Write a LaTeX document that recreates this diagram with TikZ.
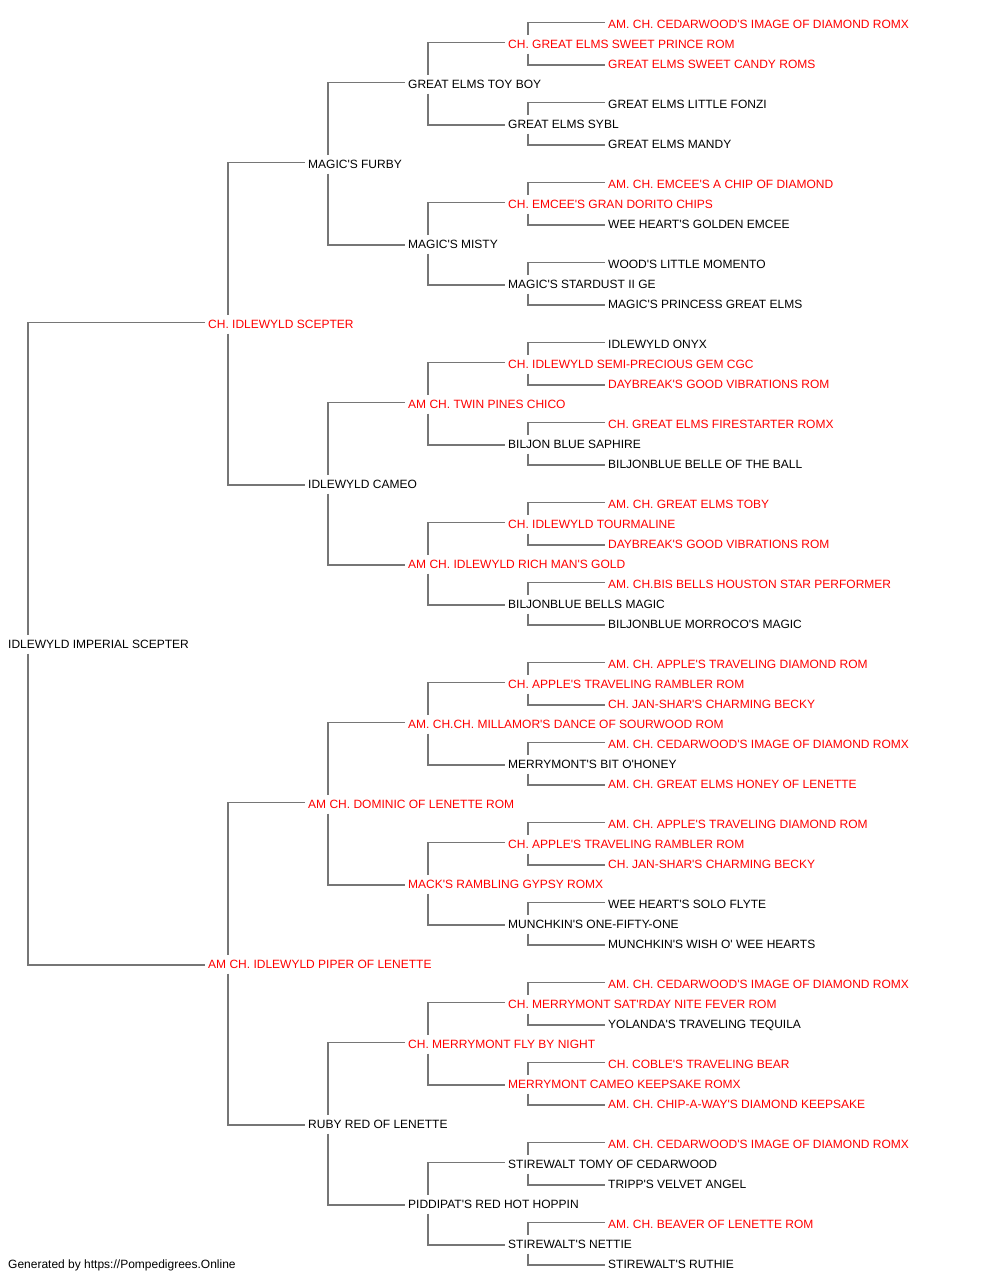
\documentclass[tikz,border=0pt]{standalone}
\usepackage{fontspec}
\setmainfont{Liberation Sans}[Ligatures=TeXOff]
\definecolor{linkgray}{RGB}{118,118,118}
\definecolor{namered}{RGB}{255,0,0}
\tikzset{
  dog/.style={anchor=west, inner sep=0pt, text height=8.3pt, text depth=0pt,
    font=\fontsize{12pt}{14pt}\selectfont, text=black, yshift=-1pt},
  champ/.style={dog, text=namered},
  link/.style={draw=linkgray, line width=1.5pt, line cap=butt, line join=miter}
}
\begin{document}
\begin{tikzpicture}[x=1pt,y=-1pt]
\fill[white] (0,0) rectangle (1000,1280);
\useasboundingbox (0,0) rectangle (1000,1280);
% generation 0
\node[dog] (n1) at (8,643) {IDLEWYLD IMPERIAL SCEPTER};
% generation 1
\node[champ] (n2) at (208,323) {CH. IDLEWYLD SCEPTER};
\node[champ] (n3) at (208,963) {AM CH. IDLEWYLD PIPER OF LENETTE};
% generation 2
\node[dog] (n4) at (308,163) {MAGIC'S FURBY};
\node[dog] (n5) at (308,483) {IDLEWYLD CAMEO};
\node[champ] (n6) at (308,803) {AM CH. DOMINIC OF LENETTE ROM};
\node[dog] (n7) at (308,1123) {RUBY RED OF LENETTE};
% generation 3
\node[dog] (n8) at (408,83) {GREAT ELMS TOY BOY};
\node[dog] (n9) at (408,243) {MAGIC'S MISTY};
\node[champ] (n10) at (408,403) {AM CH. TWIN PINES CHICO};
\node[champ] (n11) at (408,563) {AM CH. IDLEWYLD RICH MAN'S GOLD};
\node[champ] (n12) at (408,723) {AM. CH.CH. MILLAMOR'S DANCE OF SOURWOOD ROM};
\node[champ] (n13) at (408,883) {MACK'S RAMBLING GYPSY ROMX};
\node[champ] (n14) at (408,1043) {CH. MERRYMONT FLY BY NIGHT};
\node[dog] (n15) at (408,1203) {PIDDIPAT'S RED HOT HOPPIN};
% generation 4
\node[champ] (n16) at (508,43) {CH. GREAT ELMS SWEET PRINCE ROM};
\node[dog] (n17) at (508,123) {GREAT ELMS SYBL};
\node[champ] (n18) at (508,203) {CH. EMCEE'S GRAN DORITO CHIPS};
\node[dog] (n19) at (508,283) {MAGIC'S STARDUST II GE};
\node[champ] (n20) at (508,363) {CH. IDLEWYLD SEMI-PRECIOUS GEM CGC};
\node[dog] (n21) at (508,443) {BILJON BLUE SAPHIRE};
\node[champ] (n22) at (508,523) {CH. IDLEWYLD TOURMALINE};
\node[dog] (n23) at (508,603) {BILJONBLUE BELLS MAGIC};
\node[champ] (n24) at (508,683) {CH. APPLE'S TRAVELING RAMBLER ROM};
\node[dog] (n25) at (508,763) {MERRYMONT'S BIT O'HONEY};
\node[champ] (n26) at (508,843) {CH. APPLE'S TRAVELING RAMBLER ROM};
\node[dog] (n27) at (508,923) {MUNCHKIN'S ONE-FIFTY-ONE};
\node[champ] (n28) at (508,1003) {CH. MERRYMONT SAT'RDAY NITE FEVER ROM};
\node[champ] (n29) at (508,1083) {MERRYMONT CAMEO KEEPSAKE ROMX};
\node[dog] (n30) at (508,1163) {STIREWALT TOMY OF CEDARWOOD};
\node[dog] (n31) at (508,1243) {STIREWALT'S NETTIE};
% generation 5
\node[champ] (n32) at (608,23) {AM. CH. CEDARWOOD'S IMAGE OF DIAMOND ROMX};
\node[champ] (n33) at (608,63) {GREAT ELMS SWEET CANDY ROMS};
\node[dog] (n34) at (608,103) {GREAT ELMS LITTLE FONZI};
\node[dog] (n35) at (608,143) {GREAT ELMS MANDY};
\node[champ] (n36) at (608,183) {AM. CH. EMCEE'S A CHIP OF DIAMOND};
\node[dog] (n37) at (608,223) {WEE HEART'S GOLDEN EMCEE};
\node[dog] (n38) at (608,263) {WOOD'S LITTLE MOMENTO};
\node[dog] (n39) at (608,303) {MAGIC'S PRINCESS GREAT ELMS};
\node[dog] (n40) at (608,343) {IDLEWYLD ONYX};
\node[champ] (n41) at (608,383) {DAYBREAK'S GOOD VIBRATIONS ROM};
\node[champ] (n42) at (608,423) {CH. GREAT ELMS FIRESTARTER ROMX};
\node[dog] (n43) at (608,463) {BILJONBLUE BELLE OF THE BALL};
\node[champ] (n44) at (608,503) {AM. CH. GREAT ELMS TOBY};
\node[champ] (n45) at (608,543) {DAYBREAK'S GOOD VIBRATIONS ROM};
\node[champ] (n46) at (608,583) {AM. CH.BIS BELLS HOUSTON STAR PERFORMER};
\node[dog] (n47) at (608,623) {BILJONBLUE MORROCO'S MAGIC};
\node[champ] (n48) at (608,663) {AM. CH. APPLE'S TRAVELING DIAMOND ROM};
\node[champ] (n49) at (608,703) {CH. JAN-SHAR'S CHARMING BECKY};
\node[champ] (n50) at (608,743) {AM. CH. CEDARWOOD'S IMAGE OF DIAMOND ROMX};
\node[champ] (n51) at (608,783) {AM. CH. GREAT ELMS HONEY OF LENETTE};
\node[champ] (n52) at (608,823) {AM. CH. APPLE'S TRAVELING DIAMOND ROM};
\node[champ] (n53) at (608,863) {CH. JAN-SHAR'S CHARMING BECKY};
\node[dog] (n54) at (608,903) {WEE HEART'S SOLO FLYTE};
\node[dog] (n55) at (608,943) {MUNCHKIN'S WISH O' WEE HEARTS};
\node[champ] (n56) at (608,983) {AM. CH. CEDARWOOD'S IMAGE OF DIAMOND ROMX};
\node[dog] (n57) at (608,1023) {YOLANDA'S TRAVELING TEQUILA};
\node[champ] (n58) at (608,1063) {CH. COBLE'S TRAVELING BEAR};
\node[champ] (n59) at (608,1103) {AM. CH. CHIP-A-WAY'S DIAMOND KEEPSAKE};
\node[champ] (n60) at (608,1143) {AM. CH. CEDARWOOD'S IMAGE OF DIAMOND ROMX};
\node[dog] (n61) at (608,1183) {TRIPP'S VELVET ANGEL};
\node[champ] (n62) at (608,1223) {AM. CH. BEAVER OF LENETTE ROM};
\node[dog] (n63) at (608,1263) {STIREWALT'S RUTHIE};
% footer
\node[dog] (footer) at (8,1263) {Generated by https://Pompedigrees.Online};
% connectors
\foreach \k in {1,...,31}{
  \pgfmathtruncatemacro{\s}{2*\k}
  \pgfmathtruncatemacro{\d}{2*\k+1}
  \draw[link] ([xshift=20pt,yshift=9.5pt]n\k.west) |- ([xshift=-3pt,yshift=1.5pt]n\s.west);
  \draw[link] ([xshift=20pt,yshift=-9.5pt]n\k.west) |- ([xshift=-3pt,yshift=-1pt]n\d.west);
}
\end{tikzpicture}
\end{document}
